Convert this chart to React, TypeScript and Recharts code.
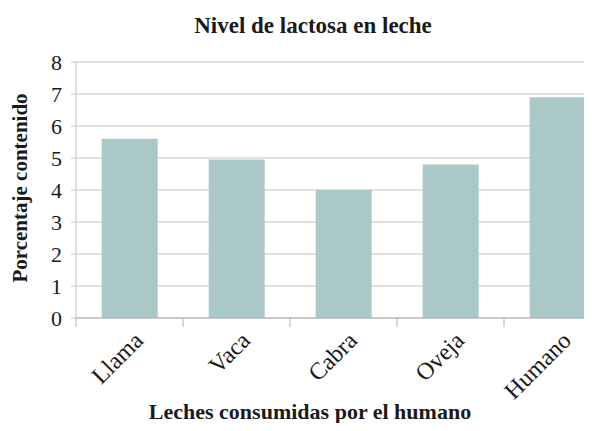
import React from "react";
import { BarChart, Bar, XAxis, YAxis, CartesianGrid } from "recharts";

const categories = ["Llama", "Vaca", "Cabra", "Oveja", "Humano"];
const lactosa = [5.6, 4.95, 4.0, 4.8, 6.9];
const yTicks = [0, 1, 2, 3, 4, 5, 6, 7, 8];
const title = "Nivel de lactosa en leche";
const xTitle = "Leches consumidas por el humano";
const yTitle = "Porcentaje contenido";

const data = categories.map((c, i) => ({ name: c, value: lactosa[i] }));

const FONT = "Liberation Serif, DejaVu Serif, serif";
const CHART_W = 611;
const CHART_H = 431;
const Y_AXIS_W = 76;
const PLOT_W = CHART_W - Y_AXIS_W;
const BAND = PLOT_W / categories.length;

const XTick = (props: any) => {
  const { x, y, payload } = props;
  const bx = x - BAND / 2;
  const tx = x + 15;
  const ty = y + 24;
  return (
    <g>
      <line x1={bx} y1={y} x2={bx} y2={y + 9} stroke="#b3b3b3" strokeWidth={1} />
      <text
        x={tx}
        y={ty}
        transform={`rotate(-45, ${tx}, ${ty})`}
        textAnchor="end"
        style={{ fontFamily: FONT, fontSize: 24, fill: "#1a1a1a" }}
      >
        {payload.value}
      </text>
    </g>
  );
};

export default function App() {
  return (
    <div
      style={{
        position: "relative",
        width: 592,
        height: 431,
        margin: "-8px 0 -8px -8px",
        overflow: "hidden",
        background: "#fff",
      }}
    >
      <BarChart
        width={CHART_W}
        height={CHART_H}
        data={data}
        margin={{ top: 62, right: 0, left: 0, bottom: 0 }}
        barCategoryGap="24%"
      >
        <CartesianGrid vertical={false} stroke="#c4c4c4" strokeWidth={1} />
        <XAxis
          dataKey="name"
          height={113}
          interval={0}
          tickLine={false}
          tickSize={0}
          tickMargin={0}
          axisLine={{ stroke: "#b3b3b3" }}
          tick={<XTick />}
        />
        <YAxis
          width={Y_AXIS_W}
          domain={[0, 8]}
          ticks={yTicks}
          interval={0}
          tickSize={5}
          tickMargin={9}
          axisLine={{ stroke: "#c4c4c4" }}
          tickLine={{ stroke: "#c4c4c4" }}
          tick={{ style: { fontFamily: FONT, fontSize: 22 }, fill: "#1a1a1a" }}
        />
        <Bar dataKey="value" fill="#a9c8c7" isAnimationActive={false} />
      </BarChart>
      <svg
        width={592}
        height={431}
        style={{ position: "absolute", left: 0, top: 0, pointerEvents: "none" }}
      >
        <text
          x={313}
          y={33}
          textAnchor="middle"
          style={{ fontFamily: FONT, fontWeight: "bold", fontSize: 23, fill: "#1a1a1a" }}
        >
          {title}
        </text>
        <text
          x={310}
          y={419}
          textAnchor="middle"
          style={{ fontFamily: FONT, fontWeight: "bold", fontSize: 22, fill: "#1a1a1a" }}
        >
          {xTitle}
        </text>
        <text
          x={27}
          y={188}
          transform="rotate(-90, 27, 188)"
          textAnchor="middle"
          style={{ fontFamily: FONT, fontWeight: "bold", fontSize: 21, fill: "#1a1a1a" }}
        >
          {yTitle}
        </text>
      </svg>
    </div>
  );
}
